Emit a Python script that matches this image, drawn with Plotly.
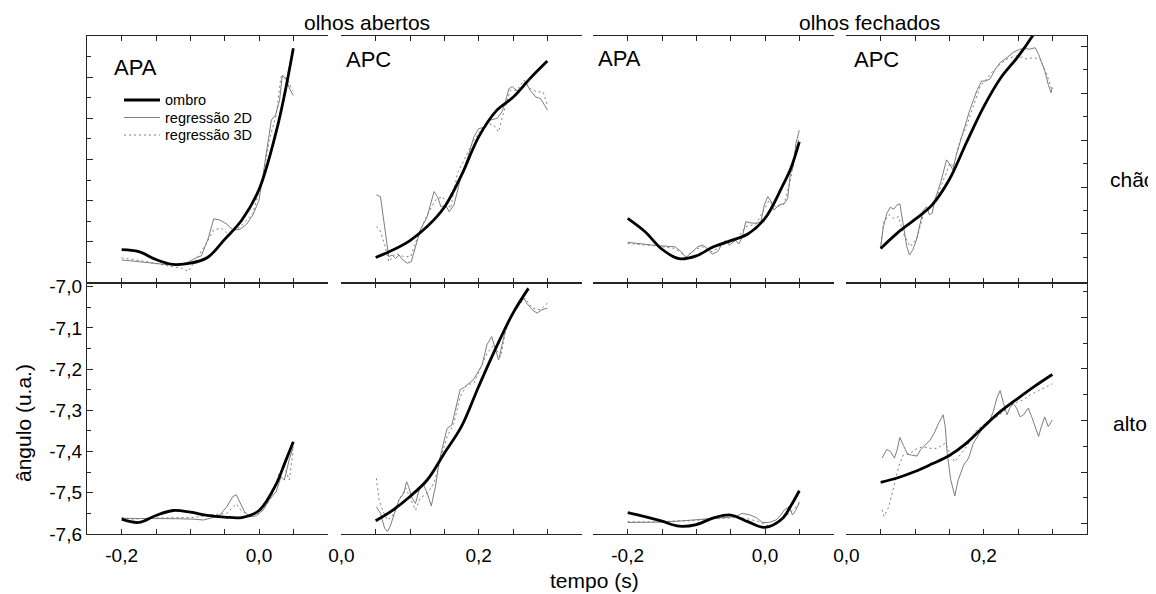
import plotly.graph_objects as go

# tempo (s) das curvas suaves do ombro
apa_t = [-0.2, -0.175, -0.15, -0.125, -0.1, -0.075, -0.05, -0.025, 0.0, 0.025, 0.0375, 0.05]
apc_t = [0.05, 0.075, 0.1, 0.125, 0.15, 0.175, 0.2, 0.225, 0.25, 0.275, 0.3]

# ---------------- chão, olhos abertos, APA ----------------
ch_ab_apa_ombro = [-7.519, -7.524, -7.543, -7.555, -7.552, -7.538, -7.494, -7.447, -7.373, -7.233, -7.140, -7.030]
ch_ab_apa_2d_t = [-0.200, -0.164, -0.130, -0.106, -0.093, -0.084, -0.074, -0.066, -0.057, -0.047, -0.038, -0.028,
                  -0.018, -0.009, 0.000, 0.007, 0.013, 0.018, 0.024, 0.030, 0.034, 0.040, 0.045, 0.050]
ch_ab_apa_2d = [-7.544, -7.551, -7.556, -7.552, -7.540, -7.534, -7.492, -7.444, -7.447, -7.457, -7.471, -7.470,
                -7.457, -7.435, -7.399, -7.326, -7.253, -7.204, -7.192, -7.156, -7.095, -7.107, -7.130, -7.144]
ch_ab_apa_3d_t = [-0.200, -0.164, -0.130, -0.113, -0.103, -0.096, -0.077, -0.066, -0.055, -0.045, -0.028, -0.009,
                  0.006, 0.015, 0.025, 0.032, 0.041, 0.049]
ch_ab_apa_3d = [-7.539, -7.548, -7.559, -7.564, -7.572, -7.554, -7.505, -7.471, -7.467, -7.481, -7.465, -7.431,
                -7.342, -7.253, -7.192, -7.099, -7.103, -7.133]

# ---------------- chão, olhos abertos, APC ----------------
ch_ab_apc_ombro = [-7.538, -7.520, -7.497, -7.463, -7.416, -7.338, -7.245, -7.183, -7.149, -7.103, -7.061]
ch_ab_apc_2d_t = [0.051, 0.057, 0.061, 0.066, 0.069, 0.074, 0.079, 0.084, 0.089, 0.096, 0.102, 0.108, 0.115,
                  0.125, 0.135, 0.140, 0.145, 0.152, 0.157, 0.164, 0.173, 0.183, 0.193, 0.200, 0.210, 0.217,
                  0.227, 0.234, 0.239, 0.244, 0.249, 0.256, 0.261, 0.268, 0.275, 0.283, 0.290, 0.296, 0.300]
ch_ab_apc_2d = [-7.386, -7.390, -7.439, -7.504, -7.536, -7.532, -7.540, -7.532, -7.543, -7.552, -7.548, -7.512,
                -7.471, -7.439, -7.378, -7.390, -7.415, -7.411, -7.427, -7.411, -7.350, -7.301, -7.245, -7.225,
                -7.221, -7.204, -7.200, -7.184, -7.160, -7.128, -7.123, -7.133, -7.130, -7.111, -7.132, -7.148,
                -7.152, -7.168, -7.180]
ch_ab_apc_3d_t = [0.051, 0.056, 0.064, 0.069, 0.079, 0.091, 0.101, 0.113, 0.125, 0.137, 0.147, 0.159, 0.169,
                  0.183, 0.193, 0.203, 0.212, 0.222, 0.229, 0.236, 0.246, 0.256, 0.266, 0.275, 0.285, 0.294, 0.300]
ch_ab_apc_3d = [-7.463, -7.471, -7.512, -7.548, -7.528, -7.536, -7.536, -7.479, -7.435, -7.399, -7.390, -7.419,
                -7.334, -7.285, -7.253, -7.229, -7.212, -7.217, -7.233, -7.188, -7.132, -7.132, -7.107, -7.128,
                -7.136, -7.136, -7.168]

# ---------------- chão, olhos fechados, APA ----------------
ch_fe_apa_ombro = [-7.443, -7.475, -7.518, -7.541, -7.534, -7.512, -7.497, -7.481, -7.443, -7.366, -7.322, -7.257]
ch_fe_apa_2d_t = [-0.200, -0.178, -0.159, -0.131, -0.122, -0.115, -0.108, -0.098, -0.091, -0.084, -0.077, -0.069,
                  -0.062, -0.057, -0.052, -0.043, -0.038, -0.033, -0.028, -0.021, -0.013, -0.006, -0.001, 0.004,
                  0.008, 0.013, 0.020, 0.028, 0.033, 0.037, 0.041, 0.045, 0.050]
ch_fe_apa_2d = [-7.501, -7.505, -7.509, -7.512, -7.524, -7.538, -7.528, -7.512, -7.508, -7.516, -7.530, -7.524,
                -7.504, -7.497, -7.508, -7.496, -7.505, -7.488, -7.451, -7.454, -7.455, -7.451, -7.411, -7.390,
                -7.399, -7.423, -7.411, -7.407, -7.395, -7.334, -7.318, -7.261, -7.229]
ch_fe_apa_3d_t = [-0.200, -0.159, -0.131, -0.115, -0.101, -0.091, -0.077, -0.062, -0.043, -0.028, -0.013, -0.001,
                  0.006, 0.016, 0.028, 0.037, 0.045, 0.050]
ch_fe_apa_3d = [-7.504, -7.510, -7.516, -7.536, -7.518, -7.512, -7.524, -7.508, -7.497, -7.463, -7.457, -7.419,
                -7.399, -7.416, -7.408, -7.350, -7.277, -7.245]

# ---------------- chão, olhos fechados, APC ----------------
ch_fe_apc_ombro_t = [0.05, 0.075, 0.1, 0.125, 0.15, 0.175, 0.2, 0.225, 0.25, 0.275, 0.28]
ch_fe_apc_ombro = [-7.531, -7.497, -7.469, -7.438, -7.384, -7.305, -7.229, -7.167, -7.122, -7.069, -7.056]
ch_fe_apc_2d_t = [0.050, 0.054, 0.059, 0.064, 0.069, 0.074, 0.078, 0.083, 0.088, 0.092, 0.097, 0.102, 0.108,
                  0.112, 0.117, 0.121, 0.125, 0.129, 0.137, 0.142, 0.146, 0.151, 0.155, 0.161, 0.171, 0.180,
                  0.190, 0.197, 0.202, 0.209, 0.217, 0.224, 0.234, 0.243, 0.253, 0.260, 0.267, 0.275, 0.280,
                  0.285, 0.289, 0.294, 0.298, 0.300]
ch_fe_apc_2d = [-7.527, -7.484, -7.456, -7.443, -7.447, -7.438, -7.436, -7.484, -7.527, -7.545, -7.533, -7.513,
                -7.474, -7.449, -7.442, -7.459, -7.456, -7.427, -7.392, -7.363, -7.342, -7.352, -7.363, -7.327,
                -7.277, -7.235, -7.195, -7.174, -7.174, -7.170, -7.149, -7.135, -7.124, -7.113, -7.106, -7.105,
                -7.106, -7.103, -7.117, -7.135, -7.152, -7.181, -7.199, -7.188]
ch_fe_apc_3d_t = [0.050, 0.054, 0.062, 0.069, 0.076, 0.083, 0.093, 0.103, 0.112, 0.122, 0.132, 0.142, 0.151,
                  0.156, 0.166, 0.175, 0.185, 0.195, 0.204, 0.214, 0.224, 0.234, 0.248, 0.263, 0.272, 0.282,
                  0.292, 0.300]
ch_fe_apc_3d = [-7.531, -7.477, -7.459, -7.467, -7.463, -7.499, -7.527, -7.509, -7.459, -7.442, -7.420, -7.381,
                -7.349, -7.356, -7.299, -7.270, -7.227, -7.185, -7.170, -7.152, -7.138, -7.127, -7.120, -7.127,
                -7.124, -7.127, -7.160, -7.195]

# ---------------- alto, olhos abertos, APA ----------------
al_ab_apa_ombro = [-7.564, -7.572, -7.555, -7.543, -7.547, -7.555, -7.559, -7.560, -7.543, -7.479, -7.428, -7.376]
al_ab_apa_2d_t = [-0.200, -0.173, -0.144, -0.115, -0.096, -0.081, -0.067, -0.057, -0.047, -0.038, -0.033, -0.028,
                  -0.021, -0.014, -0.004, 0.006, 0.015, 0.025, 0.032, 0.037, 0.044, 0.050]
al_ab_apa_2d = [-7.562, -7.562, -7.562, -7.563, -7.564, -7.566, -7.560, -7.554, -7.534, -7.509, -7.505, -7.522,
                -7.546, -7.558, -7.556, -7.542, -7.517, -7.497, -7.461, -7.469, -7.420, -7.388]
al_ab_apa_3d_t = [-0.200, -0.183, -0.154, -0.125, -0.096, -0.067, -0.047, -0.033, -0.026, -0.014, 0.001, 0.011,
                  0.020, 0.030, 0.037, 0.044, 0.050]
al_ab_apa_3d = [-7.560, -7.564, -7.561, -7.560, -7.560, -7.553, -7.550, -7.527, -7.542, -7.556, -7.550, -7.530,
                -7.501, -7.449, -7.437, -7.469, -7.396]

# ---------------- alto, olhos abertos, APC ----------------
al_ab_apc_ombro_t = [0.05, 0.075, 0.1, 0.125, 0.15, 0.175, 0.2, 0.225, 0.25, 0.2725]
al_ab_apc_ombro = [-7.568, -7.542, -7.509, -7.469, -7.404, -7.339, -7.242, -7.149, -7.064, -7.004]
al_ab_apc_2d_t = [0.051, 0.057, 0.063, 0.067, 0.071, 0.077, 0.084, 0.091, 0.095, 0.098, 0.103, 0.108, 0.114,
                  0.120, 0.125, 0.131, 0.137, 0.143, 0.149, 0.154, 0.161, 0.169, 0.173, 0.179, 0.186, 0.192,
                  0.198, 0.205, 0.212, 0.219, 0.224, 0.229, 0.234, 0.239, 0.246, 0.256, 0.266, 0.270, 0.278,
                  0.285, 0.292, 0.300]
al_ab_apc_2d = [-7.534, -7.550, -7.586, -7.594, -7.582, -7.550, -7.517, -7.501, -7.473, -7.485, -7.513, -7.526,
                -7.489, -7.481, -7.501, -7.532, -7.485, -7.420, -7.380, -7.344, -7.335, -7.275, -7.250, -7.244,
                -7.234, -7.226, -7.210, -7.190, -7.141, -7.121, -7.149, -7.178, -7.141, -7.105, -7.073, -7.048,
                -7.028, -7.040, -7.056, -7.064, -7.056, -7.052]
al_ab_apc_3d_t = [0.051, 0.055, 0.060, 0.067, 0.074, 0.084, 0.094, 0.101, 0.108, 0.115, 0.125, 0.135, 0.144,
                  0.154, 0.164, 0.173, 0.183, 0.193, 0.203, 0.212, 0.222, 0.232, 0.239, 0.249, 0.261, 0.268,
                  0.278, 0.290, 0.300]
al_ab_apc_3d = [-7.465, -7.517, -7.542, -7.566, -7.558, -7.517, -7.489, -7.517, -7.542, -7.513, -7.501, -7.477,
                -7.420, -7.364, -7.331, -7.267, -7.238, -7.234, -7.198, -7.162, -7.141, -7.170, -7.109, -7.068,
                -7.040, -7.028, -7.052, -7.056, -7.040]

# ---------------- alto, olhos fechados, APA ----------------
al_fe_apa_ombro = [-7.548, -7.558, -7.569, -7.581, -7.577, -7.561, -7.554, -7.570, -7.584, -7.563, -7.532, -7.495]
al_fe_apa_2d_t = [-0.200, -0.178, -0.149, -0.120, -0.091, -0.072, -0.057, -0.043, -0.033, -0.021, -0.011, -0.004,
                  0.006, 0.016, 0.023, 0.028, 0.035, 0.040, 0.045, 0.050]
al_fe_apa_2d = [-7.572, -7.572, -7.571, -7.568, -7.564, -7.562, -7.560, -7.558, -7.550, -7.554, -7.562, -7.572,
                -7.572, -7.566, -7.554, -7.542, -7.534, -7.554, -7.542, -7.522]
al_fe_apa_3d_t = [-0.200, -0.168, -0.139, -0.110, -0.081, -0.057, -0.038, -0.023, -0.009, 0.006, 0.020, 0.030,
                  0.040, 0.050]
al_fe_apa_3d = [-7.570, -7.571, -7.569, -7.568, -7.564, -7.562, -7.560, -7.564, -7.570, -7.581, -7.574, -7.558,
                -7.542, -7.527]

# ---------------- alto, olhos fechados, APC ----------------
al_fe_apc_ombro = [-7.520, -7.511, -7.499, -7.484, -7.468, -7.444, -7.412, -7.382, -7.357, -7.333, -7.311]
al_fe_apc_2d_t = [0.052, 0.059, 0.064, 0.070, 0.074, 0.078, 0.083, 0.089, 0.095, 0.103, 0.108, 0.115, 0.122,
                  0.129, 0.134, 0.141, 0.144, 0.147, 0.152, 0.158, 0.163, 0.171, 0.178, 0.185, 0.192, 0.200,
                  0.207, 0.214, 0.219, 0.224, 0.229, 0.234, 0.238, 0.243, 0.248, 0.253, 0.258, 0.265, 0.270,
                  0.275, 0.280, 0.284, 0.289, 0.294, 0.300]
al_fe_apc_2d = [-7.473, -7.456, -7.460, -7.473, -7.457, -7.433, -7.448, -7.465, -7.467, -7.469, -7.457, -7.448,
                -7.438, -7.422, -7.406, -7.389, -7.412, -7.464, -7.515, -7.546, -7.515, -7.486, -7.473, -7.444,
                -7.428, -7.412, -7.406, -7.383, -7.357, -7.342, -7.367, -7.389, -7.376, -7.367, -7.376, -7.393,
                -7.389, -7.376, -7.393, -7.412, -7.431, -7.412, -7.393, -7.412, -7.399]
al_fe_apc_3d_t = [0.052, 0.055, 0.062, 0.069, 0.076, 0.083, 0.093, 0.103, 0.112, 0.122, 0.132, 0.144, 0.151,
                  0.158, 0.166, 0.173, 0.180, 0.190, 0.200, 0.209, 0.219, 0.229, 0.238, 0.248, 0.258, 0.267,
                  0.277, 0.289, 0.300]
al_fe_apc_3d = [-7.573, -7.586, -7.567, -7.528, -7.490, -7.467, -7.464, -7.454, -7.451, -7.454, -7.454, -7.444,
                -7.464, -7.480, -7.467, -7.454, -7.441, -7.418, -7.409, -7.402, -7.393, -7.383, -7.370, -7.365,
                -7.360, -7.351, -7.344, -7.336, -7.329]

# ordem dos painéis: linha de cima (chão) e linha de baixo (alto), 4 colunas
panels = [
    (apa_t, ch_ab_apa_ombro, ch_ab_apa_2d_t, ch_ab_apa_2d, ch_ab_apa_3d_t, ch_ab_apa_3d),
    (apc_t, ch_ab_apc_ombro, ch_ab_apc_2d_t, ch_ab_apc_2d, ch_ab_apc_3d_t, ch_ab_apc_3d),
    (apa_t, ch_fe_apa_ombro, ch_fe_apa_2d_t, ch_fe_apa_2d, ch_fe_apa_3d_t, ch_fe_apa_3d),
    (ch_fe_apc_ombro_t, ch_fe_apc_ombro, ch_fe_apc_2d_t, ch_fe_apc_2d, ch_fe_apc_3d_t, ch_fe_apc_3d),
    (apa_t, al_ab_apa_ombro, al_ab_apa_2d_t, al_ab_apa_2d, al_ab_apa_3d_t, al_ab_apa_3d),
    (al_ab_apc_ombro_t, al_ab_apc_ombro, al_ab_apc_2d_t, al_ab_apc_2d, al_ab_apc_3d_t, al_ab_apc_3d),
    (apa_t, al_fe_apa_ombro, al_fe_apa_2d_t, al_fe_apa_2d, al_fe_apa_3d_t, al_fe_apa_3d),
    (apc_t, al_fe_apc_ombro, al_fe_apc_2d_t, al_fe_apc_2d, al_fe_apc_3d_t, al_fe_apc_3d),
]

# a página tem 8 px de margem no body: a figura fica 8 px menor e tudo é deslocado
OFF = 8
W, H = 1156 - OFF, 594 - OFF
FONT = "Liberation Sans, Arial, sans-serif"
AXC = "#262626"
GRAY = "#7d7d7d"
OMBRO = dict(color="black", width=2.8)
R2D = dict(color=GRAY, width=1)
R3D = dict(color=GRAY, width=1, dash="2px,3px")


def px(x):
    return (x - OFF) / W


def py(y):
    return 1 - (y - OFF) / H


col_left = [87, 341, 593, 846]
col_w = 241
row_top = [36, 283]
row_bot = [283, 534]

fig = go.Figure()

for i, (ot, oy, t2, y2, t3, y3) in enumerate(panels):
    n = i + 1
    xa = "x" if n == 1 else f"x{n}"
    ya = "y" if n == 1 else f"y{n}"
    fig.add_trace(go.Scatter(x=t3, y=y3, xaxis=xa, yaxis=ya, mode="lines", name="regressão 3D",
                             line=R3D, showlegend=False))
    fig.add_trace(go.Scatter(x=t2, y=y2, xaxis=xa, yaxis=ya, mode="lines", name="regressão 2D",
                             line=R2D, showlegend=False))
    fig.add_trace(go.Scatter(x=ot, y=oy, xaxis=xa, yaxis=ya, mode="lines", name="ombro",
                             line=dict(OMBRO, shape="spline", smoothing=1), showlegend=False))

layout = {}
for i in range(8):
    n = i + 1
    row, col = divmod(i, 4)
    xkey = "xaxis" if n == 1 else f"xaxis{n}"
    ykey = "yaxis" if n == 1 else f"yaxis{n}"
    ya = "y" if n == 1 else f"y{n}"
    xa = "x" if n == 1 else f"x{n}"

    if col in (0, 2):
        xr = [-0.2505, 0.1005]
        tv = [-0.25, -0.2, -0.15, -0.1, -0.05, 0.0, 0.05, 0.1]
        tt = ["", "-0,2", "", "", "", "0,0", "", ""]
    else:
        xr = [-0.0005, 0.3505]
        tv = [0.0, 0.05, 0.1, 0.15, 0.2, 0.25, 0.3, 0.35]
        tt = ["0,0", "", "", "", "0,2", "", "", ""]
    layout[xkey] = dict(domain=[px(col_left[col]), px(col_left[col] + col_w)], anchor=ya, range=xr,
                        tickmode="array", tickvals=tv, ticktext=tt,
                        showticklabels=(row == 1), ticks="inside", ticklen=5, tickwidth=1, tickcolor=AXC,
                        ticklabelstandoff=4,
                        showline=True, linecolor=AXC, linewidth=1.3, mirror="ticks",
                        showgrid=False, zeroline=False, tickfont=dict(size=19, color="black"))

    yr = [-7.6, -7.0] if row == 0 else [-7.6, -6.991]
    yax = dict(domain=[py(row_bot[row]), py(row_top[row])], anchor=xa, range=yr,
               showgrid=False, zeroline=False)
    if col == 0:
        major = [-7.6, -7.5, -7.4, -7.3, -7.2, -7.1, -7.0]
        minor = [-7.55, -7.45, -7.35, -7.25, -7.15, -7.05]
        yax.update(side="left", showline=True, linecolor=AXC, linewidth=1.3, ticks="inside", ticklen=6,
                   tickwidth=1, tickcolor=AXC, tickmode="array", tickvals=major,
                   ticktext=["-7,6", "-7,5", "-7,4", "-7,3", "-7,2", "-7,1", "-7,0"],
                   showticklabels=(row == 1), tickfont=dict(size=19, color="black"),
                   minor=dict(tickmode="array", tickvals=minor, ticks="inside", ticklen=4, tickcolor=AXC))
    elif col == 3:
        if row == 0:
            yax["range"] = [-7.6045, -7.078]
            major = [-7.5, -7.4, -7.3, -7.2, -7.1]
            minor = [-7.55, -7.45, -7.35, -7.25, -7.15]
        else:
            yax["range"] = [-7.62, -7.1336]
            major = [-7.6, -7.5, -7.4, -7.3, -7.2]
            minor = [-7.55, -7.45, -7.35, -7.25, -7.15]
        yax.update(side="right", showline=True, linecolor=AXC, linewidth=1.3, ticks="inside", ticklen=6,
                   tickwidth=1, tickcolor=AXC, tickmode="array", tickvals=major, showticklabels=False,
                   minor=dict(tickmode="array", tickvals=minor, ticks="inside", ticklen=4, tickcolor=AXC))
    else:
        yax.update(visible=False)
    layout[ykey] = yax

fig.update_layout(**layout)

ann = [
    dict(text="olhos abertos", x=367, y=22),
    dict(text="olhos fechados", x=869, y=22),
    dict(text="APA", x=112, y=67, xanchor="left", size=22),
    dict(text="APC", x=344, y=60, xanchor="left", size=22),
    dict(text="APA", x=596, y=58, xanchor="left", size=22),
    dict(text="APC", x=852, y=60, xanchor="left", size=22),
    dict(text="chão", x=1133, y=180),
    dict(text="alto", x=1130, y=423),
    dict(text="tempo (s)", x=594, y=580),
    dict(text="ângulo (u.a.)", x=23, y=423, textangle=-90),
]
# legenda desenhada à mão dentro do primeiro painel
leg_items = [("ombro", OMBRO, 100), ("regressão 2D", R2D, 117.5), ("regressão 3D", R3D, 135)]
for label, style, ypx in leg_items:
    fig.add_shape(type="line", xref="paper", yref="paper", x0=px(124), x1=px(160),
                  y0=py(ypx), y1=py(ypx), line=style)
    ann.append(dict(text=label, x=163, y=ypx, xanchor="left", size=14.5))

for a in ann:
    f = dict(family=FONT, size=a.pop("size", 21), color="black")
    fig.add_annotation(xref="paper", yref="paper", x=px(a.pop("x")), y=py(a.pop("y")),
                       xanchor=a.pop("xanchor", "center"), yanchor="middle", showarrow=False,
                       font=f, **a)

fig.update_layout(
    width=W, height=H,
    margin=dict(l=0, r=0, t=0, b=0, autoexpand=False),
    paper_bgcolor="white", plot_bgcolor="white",
    font=dict(family=FONT, color="black"),
    showlegend=False,
)

fig.write_html("out.html")
